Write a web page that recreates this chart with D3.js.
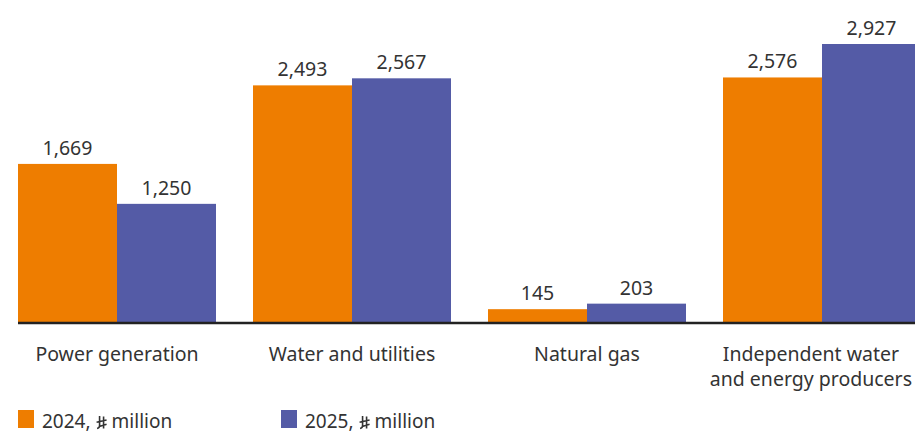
<!DOCTYPE html>
<meta charset="utf-8">
<style>
body {
  margin: 0;
  font-family: "Noto Sans", sans-serif;
  background: #fff;
}
text {
  fill: #333;
}
</style>
<body>
<script src="https://cdn.jsdelivr.net/npm/d3@7"></script>
<script>

var width = 915,
    height = 433;

var categories = ["Power generation", "Water and utilities", "Natural gas", "Independent water\nand energy producers"];
var years = ["2024", "2025"];
var values2024 = [1669, 2493, 145, 2576];
var values2025 = [1250, 2567, 203, 2927];
var seriesLabels = ["2024,", "2025,"];
var unitLabel = "million";
var colors = ["#ee7d00", "#545ba6"];

var baseline = 323;

var svg = d3.select("body").append("svg")
    .attr("width", width)
    .attr("height", height);

var x = d3.scaleBand()
    .domain(categories)
    .range([18, 921])
    .paddingInner(37 / 235)
    .paddingOuter(0);

var xInner = d3.scaleBand()
    .domain(years)
    .range([0, x.bandwidth()]);

var y = d3.scaleLinear()
    .domain([0, 2927])
    .range([baseline, 44]);

var data = categories.map(function(c, i) {
  return { cat: c, vals: [values2024[i], values2025[i]] };
});

var groups = svg.selectAll(".group")
    .data(data)
  .enter().append("g")
    .attr("class", "group")
    .attr("transform", function(d) { return "translate(" + x(d.cat) + ",0)"; });

var bars = groups.selectAll(".bar")
    .data(function(d) { return d.vals.map(function(v, j) { return { year: years[j], v: v, j: j }; }); })
  .enter();

bars.append("rect")
    .attr("class", "bar")
    .attr("x", function(d) { return xInner(d.year); })
    .attr("y", function(d) { return y(d.v); })
    .attr("width", xInner.bandwidth())
    .attr("height", function(d) { return baseline - y(d.v); })
    .attr("fill", function(d) { return colors[d.j]; });

bars.append("text")
    .attr("x", function(d) { return xInner(d.year) + xInner.bandwidth() / 2; })
    .attr("y", function(d) { return y(d.v) - 9; })
    .attr("text-anchor", "middle")
    .style("font-size", "19.5px")
    .text(function(d) { return d3.format(",")(d.v); });

// baseline
svg.append("line")
    .attr("x1", 18)
    .attr("x2", width)
    .attr("y1", baseline)
    .attr("y2", baseline)
    .attr("stroke", "#222")
    .attr("stroke-width", 2.5);

// category labels, kept inside the right edge
groups.append("text")
    .attr("class", "cat")
    .attr("y", 361)
    .attr("text-anchor", "middle")
    .style("font-size", "19.5px")
    .selectAll("tspan")
    .data(function(d) { return d.cat.split("\n"); })
  .enter().append("tspan")
    .attr("x", x.bandwidth() / 2)
    .attr("dy", function(d, i) { return i === 0 ? 0 : 25; })
    .text(function(d) { return d; });

groups.each(function(d) {
  var t = d3.select(this).select("text.cat");
  var half = t.node().getBBox().width / 2;
  var cx = Math.min(x(d.cat) + x.bandwidth() / 2, width - 3 - half) - x(d.cat);
  t.selectAll("tspan").attr("x", cx);
});

// legend
var legend = svg.selectAll(".legend")
    .data(seriesLabels)
  .enter().append("g")
    .attr("class", "legend")
    .attr("transform", function(d, i) { return "translate(" + [18, 281][i] + ",410)"; });

legend.append("rect")
    .attr("width", 16)
    .attr("height", 18)
    .attr("fill", function(d, i) { return colors[i]; });

legend.each(function(d) {
  var g = d3.select(this);
  var t = g.append("text")
      .attr("x", 24)
      .attr("y", 18)
      .style("font-size", "19px")
      .text(d);
  var w = t.node().getComputedTextLength();
  // riyal sign, drawn since the fonts lack U+20C1
  g.append("path")
      .attr("transform", "translate(" + (24 + w + 6) + ",6)")
      .attr("d", "M3,0V9.5Q3,12 0.5,12.5M7,0.5V12.5M0,6.2L10,4M3.5,10.3L10,8.2")
      .attr("fill", "none")
      .attr("stroke", "#333")
      .attr("stroke-width", 1.6);
  g.append("text")
      .attr("x", 24 + w + 21)
      .attr("y", 18)
      .style("font-size", "19px")
      .text(unitLabel);
});

</script>
